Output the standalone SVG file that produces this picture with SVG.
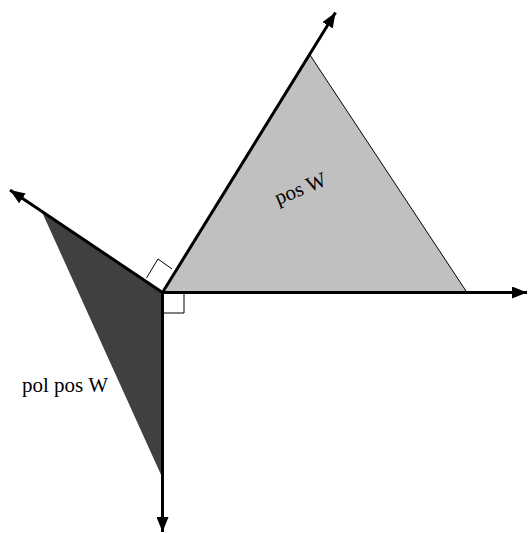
<svg xmlns="http://www.w3.org/2000/svg" width="528" height="533" viewBox="0 0 528 533">
<defs>
<marker id="ah" viewBox="0 0 10 8" refX="10" refY="4" markerWidth="5" markerHeight="4" orient="auto" markerUnits="strokeWidth">
<path d="M0,0 L10,4 L0,8 Z" fill="#000"/>
</marker>
<style>
.axis{stroke:#000;stroke-width:3;fill:none;marker-end:url(#ah)}
.lbl{font-family:"Liberation Serif",serif;font-size:21px;fill:#000}
.mark{stroke:#000;stroke-width:1;fill:none}
</style>
</defs>
<rect width="528" height="533" fill="#fff"/>
<g id="posW">
<polygon points="162.5,292.5 310,55 467,292.5" fill="#c0c0c0" stroke="#000" stroke-width="1"/>
<text class="lbl" x="303" y="195" text-anchor="middle" transform="rotate(-22 303 195)">pos W</text>
</g>
<g id="polposW">
<polygon points="162.5,292.5 42,212 162.5,478" fill="#404040" stroke="none"/>
<text class="lbl" x="22" y="392">pol pos W</text>
</g>
<g id="marks">
<polyline class="mark" points="163,313 184,313 184,293"/>
<polyline class="mark" points="146.5,278 158,259 172,269"/>
</g>
<g id="connectors">
<line class="axis" x1="162.5" y1="292.5" x2="527" y2="292.5"/>
<line class="axis" x1="162.5" y1="292.5" x2="162.5" y2="532"/>
<line class="axis" x1="162.5" y1="292.5" x2="335.5" y2="12.5"/>
<line class="axis" x1="162.5" y1="292.5" x2="10" y2="190"/>
</g>
</svg>
